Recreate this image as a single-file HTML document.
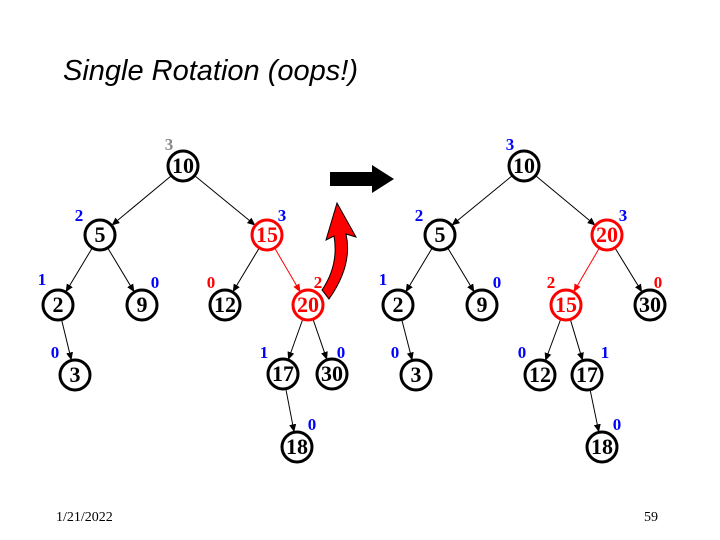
<!DOCTYPE html>
<html><head><meta charset="utf-8"><style>
body{margin:0;background:#fff}
svg{display:block}
.n{font-family:"Liberation Serif",serif;font-size:22px;font-weight:bold;text-anchor:middle}
.h{font-family:"Liberation Serif",serif;font-size:17px;font-weight:bold;text-anchor:middle}
</style></head><body>
<svg width="720" height="540" viewBox="0 0 720 540" xmlns="http://www.w3.org/2000/svg">
<defs>
<marker id="a" markerWidth="8" markerHeight="8" refX="7" refY="4" orient="auto" markerUnits="userSpaceOnUse"><path d="M0,0.5 L8,4 L0,7.5 Z" fill="#000"/></marker>
<marker id="r" markerWidth="8" markerHeight="8" refX="7" refY="4" orient="auto" markerUnits="userSpaceOnUse"><path d="M0,0.5 L8,4 L0,7.5 Z" fill="#f00"/></marker>
</defs>
<text x="63" y="80" font-family="Liberation Sans,sans-serif" font-style="italic" font-size="29">Single Rotation (oops!)</text>
<g stroke="#000" stroke-width="1" marker-end="url(#a)">
<line x1="170.7" y1="176.2" x2="112.3" y2="224.8"/>
<line x1="195.4" y1="176.2" x2="254.6" y2="224.8"/>
<line x1="91.8" y1="248.7" x2="66.2" y2="291.3"/>
<line x1="108.2" y1="248.7" x2="133.8" y2="291.3"/>
<line x1="258.8" y1="248.7" x2="233.2" y2="291.3"/>
<line x1="61.8" y1="320.6" x2="71.2" y2="359.4"/>
<line x1="302.5" y1="320" x2="288.5" y2="359"/>
<line x1="313.3" y1="320.1" x2="326.7" y2="358.9"/>
<line x1="286" y1="389.7" x2="294" y2="431.3"/>
<line x1="511.6" y1="176.2" x2="452.4" y2="224.8"/>
<line x1="536.3" y1="176.2" x2="594.7" y2="224.8"/>
<line x1="431.8" y1="248.7" x2="406.2" y2="291.3"/>
<line x1="448.2" y1="248.7" x2="473.8" y2="291.3"/>
<line x1="615.4" y1="248.6" x2="641.6" y2="291.4"/>
<line x1="402" y1="320.5" x2="412" y2="359.5"/>
<line x1="560.4" y1="320" x2="545.6" y2="360"/>
<line x1="570.6" y1="320.3" x2="582.4" y2="359.7"/>
<line x1="590.3" y1="390.7" x2="598.7" y2="431.3"/>
</g>
<g stroke="#f00" stroke-width="1" marker-end="url(#r)">
<line x1="275.1" y1="248.8" x2="299.9" y2="291.2"/>
<line x1="598.9" y1="248.8" x2="574.1" y2="291.2"/>
</g>
<g fill="#fff" stroke-width="3">
<g stroke="#000">
<circle cx="183" cy="166" r="15"/><circle cx="100" cy="235" r="15"/>
<circle cx="58" cy="305" r="15"/><circle cx="142" cy="305" r="15"/><circle cx="225" cy="305" r="15"/>
<circle cx="75" cy="375" r="15"/><circle cx="283" cy="374" r="15"/><circle cx="332" cy="374" r="15"/><circle cx="297" cy="447" r="15"/>
<circle cx="524" cy="166" r="15"/><circle cx="440" cy="235" r="15"/>
<circle cx="398" cy="305" r="15"/><circle cx="482" cy="305" r="15"/><circle cx="650" cy="305" r="15"/>
<circle cx="416" cy="375" r="15"/><circle cx="540" cy="375" r="15"/><circle cx="587" cy="375" r="15"/><circle cx="602" cy="447" r="15"/>
</g>
<g stroke="#f00">
<circle cx="267" cy="235" r="15"/><circle cx="308" cy="305" r="15"/>
<circle cx="607" cy="235" r="15"/><circle cx="566" cy="305" r="15"/>
</g>
</g>
<g class="n">
<text x="183" y="173">10</text><text x="100" y="242">5</text><text x="267" y="242" fill="#f00">15</text>
<text x="58" y="312">2</text><text x="142" y="312">9</text><text x="225" y="312">12</text><text x="308" y="312" fill="#f00">20</text>
<text x="75" y="382">3</text><text x="283" y="381">17</text><text x="332" y="381">30</text><text x="297" y="454">18</text>
<text x="524" y="173">10</text><text x="440" y="242">5</text><text x="607" y="242" fill="#f00">20</text>
<text x="398" y="312">2</text><text x="482" y="312">9</text><text x="566" y="312" fill="#f00">15</text><text x="650" y="312">30</text>
<text x="416" y="382">3</text><text x="540" y="382">12</text><text x="587" y="382">17</text><text x="602" y="454">18</text>
</g>
<g class="h" fill="#00f">
<text x="169" y="150" fill="#888">3</text><text x="79" y="221">2</text><text x="282" y="221">3</text>
<text x="42" y="285">1</text><text x="155" y="288">0</text><text x="211" y="288" fill="#f00">0</text><text x="318" y="288" fill="#f00">2</text>
<text x="55" y="358">0</text><text x="264" y="358">1</text><text x="341" y="358">0</text><text x="312" y="430">0</text>
<text x="510" y="150">3</text><text x="419" y="221">2</text><text x="623" y="221">3</text>
<text x="383" y="285">1</text><text x="497" y="288">0</text><text x="551" y="288" fill="#f00">2</text><text x="658" y="288" fill="#f00">0</text>
<text x="395" y="358">0</text><text x="522" y="358">0</text><text x="605" y="358">1</text><text x="617" y="430">0</text>
</g>
<path d="M330,172 L372,172 L372,165 L394,179 L372,193 L372,186 L330,186 Z" fill="#000"/>
<path d="M329,299 Q353,265 346,234 L356,237 L337,203 L326,240 L334,236 Q339,265 322,290 Z" fill="#f00" stroke="#000" stroke-width="1"/>
<text x="56" y="521" font-family="Liberation Serif,serif" font-size="14">1/21/2022</text>
<text x="644" y="521" font-family="Liberation Serif,serif" font-size="14">59</text>
</svg>
</body></html>
